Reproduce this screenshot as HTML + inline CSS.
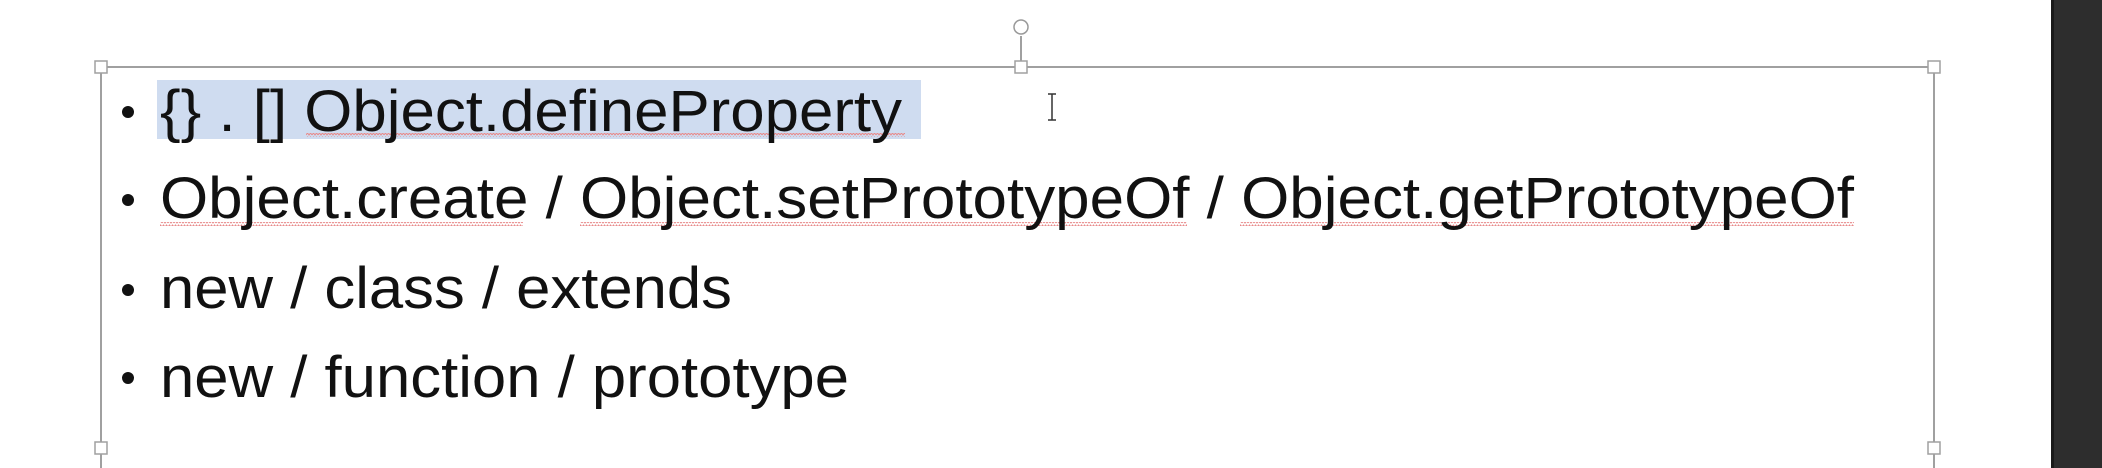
<!DOCTYPE html>
<html><head><meta charset="utf-8"><style>
html,body{margin:0;padding:0;background:#fff;}
svg{display:block}
</style></head><body>
<svg width="2102" height="468" viewBox="0 0 2102 468" xmlns="http://www.w3.org/2000/svg">
<defs>
<pattern id="wv" width="6" height="4" patternUnits="userSpaceOnUse">
<path d="M0 3 L1.5 1 L3 3 L4.5 1 L6 3" stroke="#e88a8a" stroke-width="1" fill="none"/>
</pattern>
</defs>
<rect width="2102" height="468" fill="#fff"/>
<rect x="2051" y="0" width="51" height="468" fill="#2d2d2d"/>
<rect x="2051" y="0" width="3" height="468" fill="#1a1a1a"/>
<!-- selection box (bottom edge off-screen) -->
<rect x="101" y="67" width="1833" height="420" fill="none" stroke="#a0a0a0" stroke-width="2"/>
<line x1="1021" y1="36" x2="1021" y2="67" stroke="#a0a0a0" stroke-width="2"/>
<circle cx="1021" cy="27" r="7" fill="#fff" stroke="#999" stroke-width="1.5"/>
<g fill="#fff" stroke="#a0a0a0" stroke-width="1.5">
<rect x="95" y="61" width="12" height="12"/>
<rect x="1015" y="61" width="12" height="12"/>
<rect x="1928" y="61" width="12" height="12"/>
<rect x="95" y="442" width="12" height="12"/>
<rect x="1928" y="442" width="12" height="12"/>
</g>
<!-- highlight -->
<rect x="157" y="80" width="764" height="59" fill="#cfdcf0"/>
<!-- cursor -->
<path d="M1048 94 h4 v26 h-4 M1056 94 h-4 M1056 120 h-4" stroke="#333" stroke-width="1.5" fill="none"/>
<!-- squiggles -->
<rect x="306" y="133" width="599" height="4" fill="url(#wv)"/>
<rect x="160" y="222" width="363" height="4" fill="url(#wv)"/>
<rect x="580" y="222" width="607" height="4" fill="url(#wv)"/>
<rect x="1240" y="222" width="614" height="4" fill="url(#wv)"/>
<g font-family="Liberation Sans, Arial, sans-serif" font-size="58" fill="#111">
<circle cx="128" cy="112" r="6"/>
<circle cx="128" cy="200" r="6"/>
<circle cx="128" cy="290" r="6"/>
<circle cx="128" cy="378" r="6"/>
<text x="160" y="131" textLength="742" lengthAdjust="spacingAndGlyphs">{} . [] Object.defineProperty</text>
<text x="160" y="218" textLength="1694" lengthAdjust="spacingAndGlyphs">Object.create / Object.setPrototypeOf / Object.getPrototypeOf</text>
<text x="160" y="308" textLength="572" lengthAdjust="spacingAndGlyphs">new / class / extends</text>
<text x="160" y="397" textLength="689" lengthAdjust="spacingAndGlyphs">new / function / prototype</text>
</g>
</svg>
</body></html>
